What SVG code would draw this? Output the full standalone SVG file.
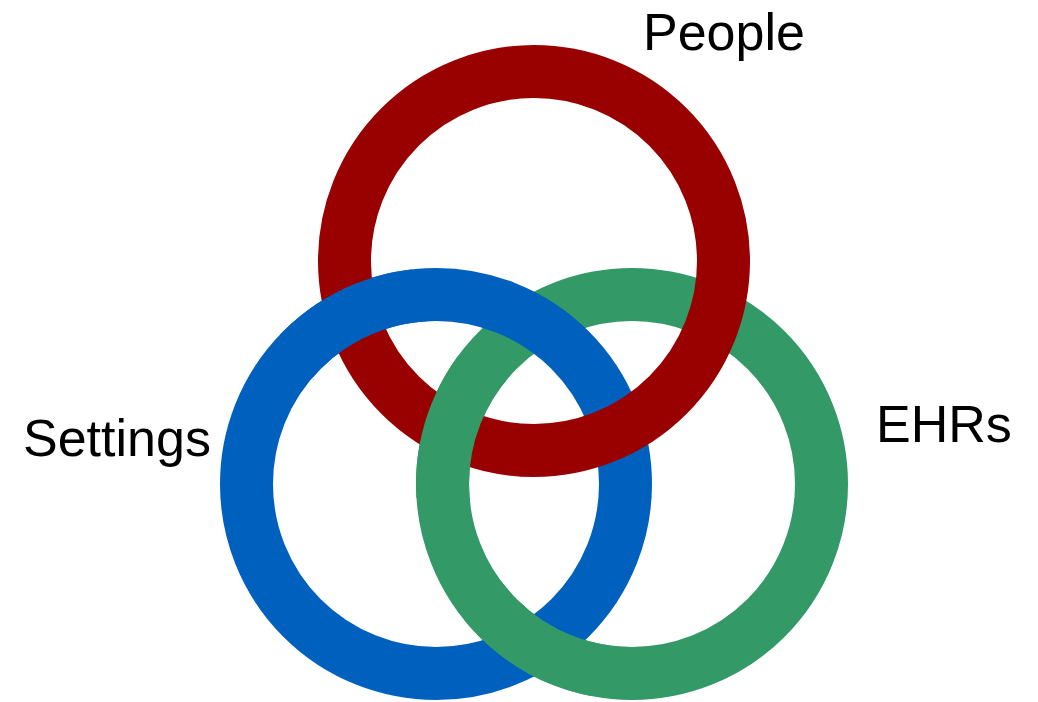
<svg xmlns="http://www.w3.org/2000/svg" width="1038" height="702" viewBox="0 0 1038 702">
  <style>
    .ring { fill: none; stroke-width: 53; }
    .red { stroke: #990000; }
    .blue { stroke: #0060BE; }
    .green { stroke: #339966; }
    .label { font-family: "Liberation Sans", Arial, sans-serif; font-size: 52px; fill: #000; }
  </style>
  <defs>
    <clipPath id="clipBlueOverRed"><circle cx="352" cy="314" r="75"/></clipPath>
    <clipPath id="clipGreenOverRed"><circle cx="450" cy="431" r="75"/></clipPath>
    <clipPath id="clipGreenOverBlue"><circle cx="534" cy="647" r="75"/></clipPath>
  </defs>
  <rect width="1038" height="702" fill="#fff"/>
  <g id="ring-ehrs">
    <circle class="ring green" cx="632" cy="484" r="189.5"/>
  </g>
  <g id="ring-settings">
    <circle class="ring blue" cx="436" cy="484" r="189.5"/>
  </g>
  <g id="ring-people">
    <circle class="ring red" cx="534" cy="261" r="189.5"/>
  </g>
  <g id="interlace">
    <circle class="ring blue" cx="436" cy="484" r="189.5" clip-path="url(#clipBlueOverRed)"/>
    <circle class="ring green" cx="632" cy="484" r="189.5" clip-path="url(#clipGreenOverRed)"/>
    <circle class="ring green" cx="632" cy="484" r="189.5" clip-path="url(#clipGreenOverBlue)"/>
  </g>
  <g id="label-people"><text class="label" x="643" y="50">People</text></g>
  <g id="label-settings"><text class="label" x="23" y="456">Settings</text></g>
  <g id="label-ehrs"><text class="label" x="876" y="442">EHRs</text></g>
</svg>
